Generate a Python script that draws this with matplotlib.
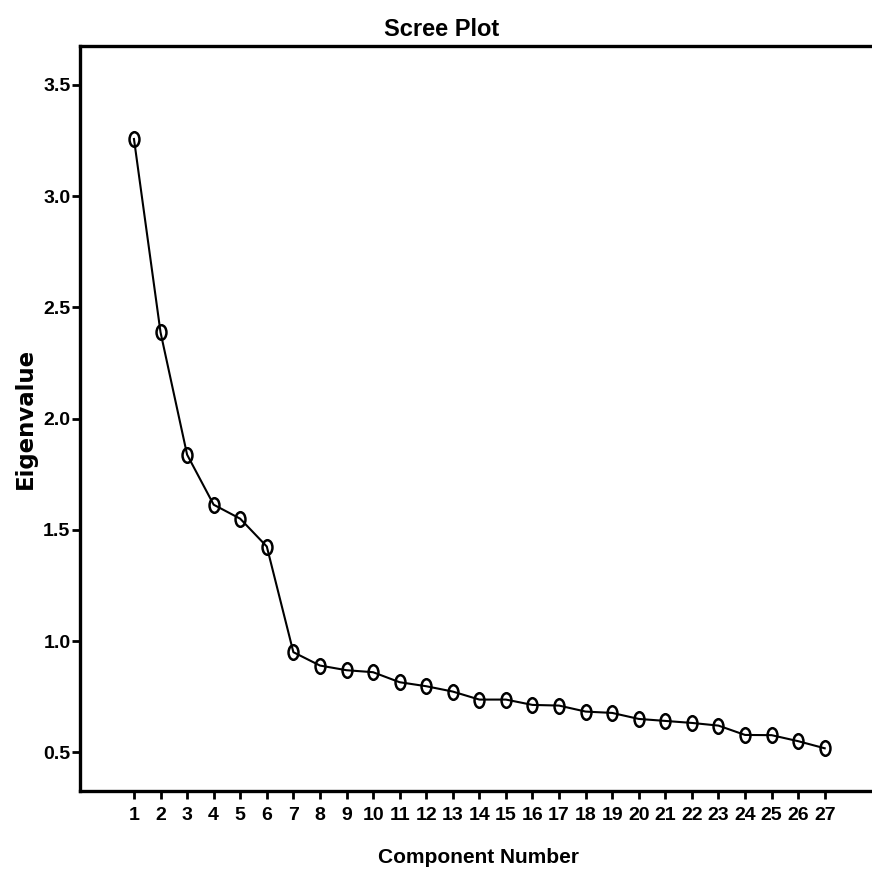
"""
Scree plot: eigenvalues per component (SPSS-style output).
"""
import matplotlib
matplotlib.use("Agg")
import matplotlib.pyplot as plt
from matplotlib import font_manager
from matplotlib.path import Path
from matplotlib.transforms import Affine2D

# ── data ──
components = list(range(1, 28))
eigenvalues = [3.257, 2.388, 1.838, 1.613, 1.550, 1.425, 0.950, 0.890, 0.869,
               0.860, 0.815, 0.797, 0.773, 0.737, 0.737, 0.713, 0.710, 0.683,
               0.677, 0.650, 0.641, 0.632, 0.620, 0.578, 0.577, 0.550, 0.518]
y_ticks = [0.5, 1.0, 1.5, 2.0, 2.5, 3.0, 3.5]
title = "Scree Plot"
x_label = "Component Number"
y_label = "Eigenvalue"

fonts = font_manager.fontManager.ttflist
print(sorted({(f.name, f.stretch) for f in fonts if f.stretch != "normal"}))
print(sorted({f.name for f in fonts}))

plt.rcParams["font.family"] = ["Liberation Sans", "DejaVu Sans"]
plt.rcParams["font.weight"] = "bold"

W, H = 872, 876
fig = plt.figure(figsize=(W / 100, H / 100), dpi=100)
ax = fig.add_axes([79.5 / W, 1 - 791 / H, 1 - 79.5 / W, (791 - 46) / H])

# tall ellipse marker (the original picture is stretched vertically)
ellipse = Path.unit_circle().transformed(Affine2D().scale(0.68, 1.0))
ax.plot(components, eigenvalues, color="black", lw=1.5,
        marker=ellipse, ms=10.5, mfc="none", mec="black", mew=1.8)

ax.set_xlim(-1.05, 28.78)
ax.set_ylim(0.326, 3.675)
ax.set_xticks(components)
ax.set_yticks(y_ticks)
ax.set_yticklabels([f"{v:.1f}" for v in y_ticks])

ax.spines["right"].set_visible(False)
for s in ("left", "top", "bottom"):
    ax.spines[s].set_linewidth(2.4)
ax.tick_params(axis="both", direction="out", length=5.5, width=2,
               labelsize=14, colors="black")
ax.tick_params(axis="x", pad=6)
ax.tick_params(axis="y", pad=1)

fig.text(441.5 / W, 1 - 36 / H, title, ha="center", va="baseline",
         fontsize=17, fontweight="bold")
fig.text(479 / W, 1 - 863 / H, x_label, ha="center", va="baseline",
         fontsize=15, fontweight="bold")
fig.text(25 / W, 1 - 418 / H, y_label, ha="center", va="center", rotation=90,
         fontsize=16.5, fontweight="bold", family=["DejaVu Sans"])

fig.savefig("out.png", dpi=100)
